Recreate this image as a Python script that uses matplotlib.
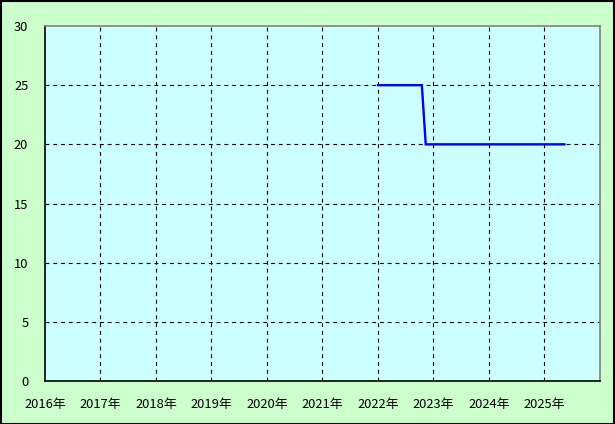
import matplotlib
matplotlib.use("Agg")
from matplotlib import pyplot as plt
from matplotlib.patches import Rectangle

plt.rcParams['font.family'] = ['Noto Sans CJK JP', 'DejaVu Sans']

# data (decimal years)
years = [2022.0, 2022.79, 2022.86, 2025.36]
values = [25, 25, 20, 20]
xticks = list(range(2016, 2026))
xlabels = [str(y) + '年' for y in xticks]
yticks = [0, 5, 10, 15, 20, 25, 30]

fig = plt.figure(figsize=(6.15, 4.24), dpi=100, facecolor='#CCFFCC')
ax = fig.add_axes([45/615, 1 - 381/424, 555/615, 355/424])
ax.set_facecolor('#CCFFFF')

ax.plot(years, values, color='#0000FF', linewidth=1.7, solid_joinstyle='miter')

ax.set_xlim(2016, 2026)
ax.set_ylim(0, 30)
ax.set_xticks(xticks)
ax.set_xticklabels(xlabels)
ax.set_yticks(yticks)
ax.tick_params(length=0, labelsize=9.3, colors='black')
ax.tick_params(axis='y', pad=12)
ax.tick_params(axis='x', pad=12)

for x in xticks[1:]:
    ax.axvline(x, color='black', linewidth=0.8, linestyle=(0, (3.5, 3.5)), zorder=1)
for y in yticks[1:-1]:
    ax.axhline(y, color='black', linewidth=0.8, linestyle=(0, (3.5, 3.5)), zorder=1)

ax.spines['left'].set_color('black')
ax.spines['bottom'].set_color('black')
ax.spines['top'].set_color('#808080')
ax.spines['right'].set_color('#808080')
for s in ax.spines.values():
    s.set_linewidth(1.2)

fig.patches.append(Rectangle((0.5/615, 0.5/424), 613.5/615, 422.5/424,
                             transform=fig.transFigure, fill=False,
                             edgecolor='black', linewidth=1.5))

fig.savefig('out.png', dpi=100, facecolor=fig.get_facecolor())
